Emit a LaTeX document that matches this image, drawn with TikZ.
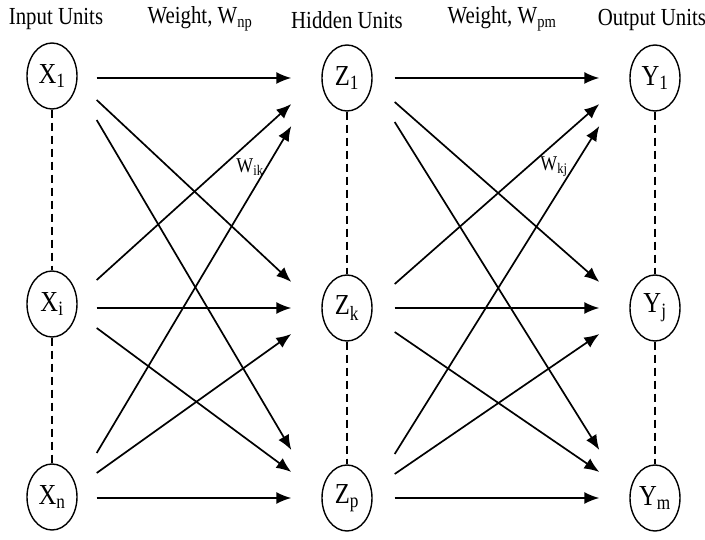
\documentclass[tikz,border=0pt]{standalone}
\usepackage{fontspec}
\setmainfont{Liberation Serif}[FakeStretch=0.85]
\usepackage{tikz}
\usetikzlibrary{arrows.meta,shapes.geometric}

\begin{document}
\begin{tikzpicture}[
  x=1pt, y=1pt,
  unit/.style={draw, ellipse, line width=1.4pt, minimum width=50pt, minimum height=66pt, inner sep=0pt, font=\fontsize{29}{31}\selectfont},
  head/.style={font=\fontsize{24.5}{26}\selectfont},
  wlabel/.style={font=\fontsize{21}{23}\selectfont},
  conn/.style={line width=1.7pt, -{Latex[length=15pt,width=12pt]}},
  gap/.style={line width=1.1pt, dash pattern=on 8pt off 5pt}
]
\useasboundingbox (0,0) rectangle (705,539);

\node[head] (hin) at (56,520) {Input Units};
\node[head] (hw1) at (200,520) {Weight, W\textsubscript{np}};
\node[head] (hhid) at (347,519) {Hidden Units};
\node[head] (hw2) at (502,520) {Weight, W\textsubscript{pm}};
\node[head] (hout) at (652,519) {Output Units};

\node[unit] (x1) at (52,463) {X\textsubscript{1}};
\node[unit] (xi) at (52,235) {X\textsubscript{i}};
\node[unit] (xn) at (52,42) {X\textsubscript{n}};

\node[unit] (z1) at (347,461) {Z\textsubscript{1}};
\node[unit] (zk) at (347,231) {Z\textsubscript{k}};
\node[unit] (zp) at (347,41) {Z\textsubscript{p}};

\node[unit] (y1) at (655,461) {Y\textsubscript{1}};
\node[unit] (yj) at (655,231) {Y\textsubscript{j}};
\node[unit] (ym) at (655,41) {Y\textsubscript{m}};

\node[wlabel] (wik) at (250,372) {W\textsubscript{ik}};
\node[wlabel] (wkj) at (554,372) {W\textsubscript{kj}};

% dashed links inside each layer
\foreach \a/\b in {x1/xi, xi/xn, z1/zk, zk/zp, y1/yj, yj/ym}
  \draw[gap] (\a) -- (\b);

% weights input -> hidden
\foreach \s/\t/\p/\q in {x1/z1/-2/0, x1/zk/-24/26, x1/zp/-44/48,
                          xi/z1/24/-26, xi/zk/-4/0, xi/zp/-24/26,
                          xn/z1/44/-48, xn/zk/24/-26, xn/zp/-1/0}
  \draw[conn] ([shift={(19pt,\p pt)}]\s.east) -- ([shift={(-30pt,\q pt)}]\t.west);

% weights hidden -> output
\foreach \s/\t/\p/\q in {z1/y1/0/0, z1/yj/-24/26, z1/ym/-44/48,
                          zk/y1/24/-26, zk/yj/0/0, zk/ym/-24/26,
                          zp/y1/44/-48, zp/yj/24/-26, zp/ym/0/0}
  \draw[conn] ([shift={(22pt,\p pt)}]\s.east) -- ([shift={(-30pt,\q pt)}]\t.west);
\end{tikzpicture}
\end{document}
